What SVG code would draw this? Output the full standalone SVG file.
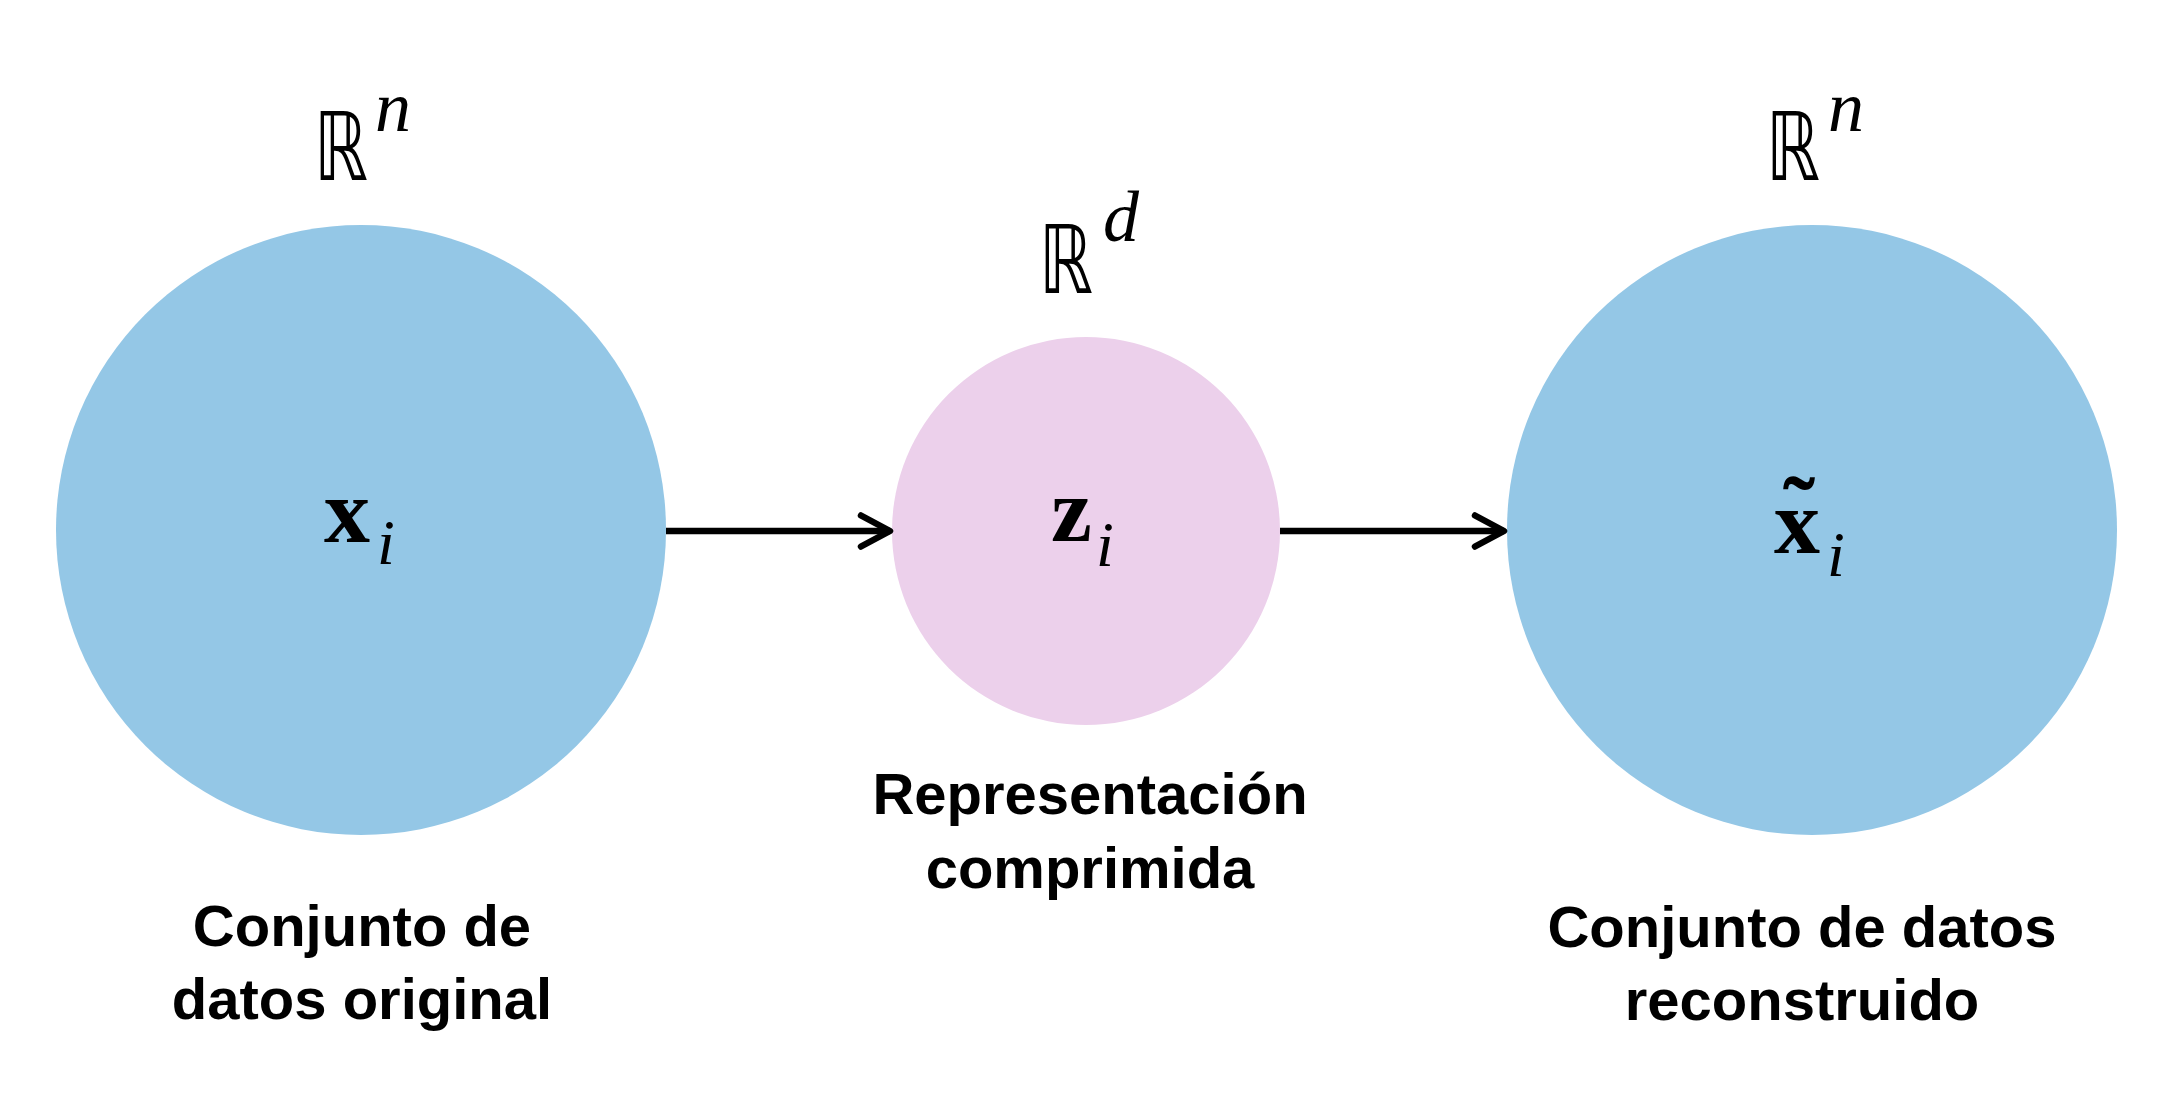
<svg xmlns="http://www.w3.org/2000/svg" width="2170" height="1102" viewBox="0 0 2170 1102">
<style>
.lbl{font-family:"Liberation Sans",Arial,sans-serif;font-weight:bold;font-size:58px;fill:#000;text-anchor:middle}
.bb{font-family:"DejaVu Sans",sans-serif;font-size:95px;fill:#000}
.sup{font-family:"Liberation Serif","Times New Roman",serif;font-style:italic;font-size:72px;fill:#000}
.bold{font-family:"Liberation Serif","Times New Roman",serif;font-weight:bold;font-size:92px;fill:#000}
.sub{font-family:"Liberation Serif","Times New Roman",serif;font-style:italic;font-size:64px;fill:#000}
.conn{stroke:#000;stroke-width:6.5;fill:none}
</style>
<defs>
<marker id="arr" markerUnits="userSpaceOnUse" markerWidth="40" markerHeight="40" viewBox="-36 -20 40 40" refX="0" refY="0" orient="auto">
<path d="M-29,-15.5 L0,0 L-29,15.5" fill="none" stroke="#000" stroke-width="6.5" stroke-linecap="round" stroke-linejoin="round"/>
</marker>
</defs>
<rect width="2170" height="1102" fill="#fff"/>
<g id="node-original">
<circle cx="361" cy="530" r="305" fill="#94C7E6"/>
<text class="bb" x="314" y="180" textLength="54" lengthAdjust="spacingAndGlyphs">ℝ</text>
<text class="sup" x="375" y="131">n</text>
<text class="bold" x="324" y="542">x</text>
<text class="sub" x="377" y="564">i</text>
<text class="lbl" x="362" y="946">Conjunto de</text>
<text class="lbl" x="362" y="1019">datos original</text>
</g>
<g id="node-compressed">
<circle cx="1086" cy="531" r="194" fill="#ECD0EB"/>
<text class="bb" x="1039" y="293" textLength="54" lengthAdjust="spacingAndGlyphs">ℝ</text>
<text class="sup" x="1103" y="241">d</text>
<text class="bold" x="1051" y="541">z</text>
<text class="sub" x="1096" y="566">i</text>
<text class="lbl" x="1090" y="814">Representación</text>
<text class="lbl" x="1090" y="888">comprimida</text>
</g>
<g id="node-reconstructed">
<circle cx="1812" cy="530" r="305" fill="#94C7E6"/>
<text class="bb" x="1766" y="180" textLength="54" lengthAdjust="spacingAndGlyphs">ℝ</text>
<text class="sup" x="1828" y="131">n</text>
<text class="bold" x="1774" y="553">x</text>
<text class="bold" x="1783" y="540" textLength="32" lengthAdjust="spacingAndGlyphs">˜</text>
<text class="sub" x="1827" y="576">i</text>
<text class="lbl" x="1802" y="947">Conjunto de datos</text>
<text class="lbl" x="1802" y="1020">reconstruido</text>
</g>
<g id="connectors">
<line class="conn" x1="666" y1="531" x2="890" y2="531" marker-end="url(#arr)"/>
<line class="conn" x1="1280" y1="531" x2="1504" y2="531" marker-end="url(#arr)"/>
</g>
</svg>
